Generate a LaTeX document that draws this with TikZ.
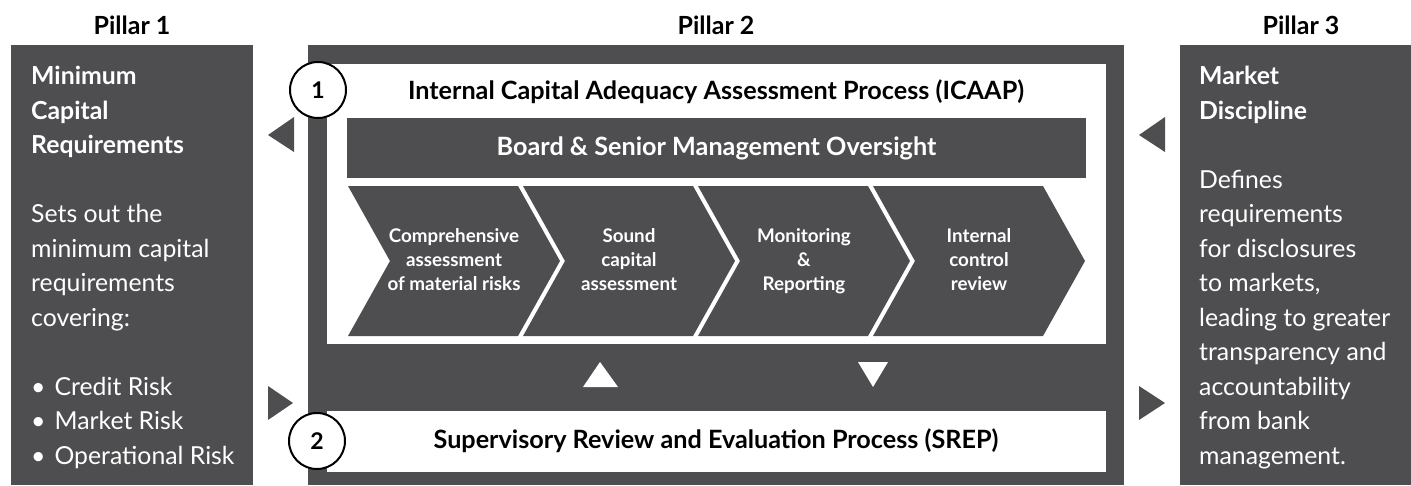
\documentclass[tikz,border=0pt]{standalone}
\usepackage{fontspec}
\setmainfont{Lato}
\definecolor{pillargray}{RGB}{78,78,80}

\begin{document}
\begin{tikzpicture}[x=1pt,y=-1pt,
    pillar/.style={fill=pillargray},
    pillarhead/.style={font=\bfseries\fontsize{25}{30}\selectfont},
    sidetext/.style={text=white, align=left, inner sep=0pt, anchor=base west,
        font=\fontsize{24.8}{34.5}\selectfont},
    title/.style={font=\bfseries\fontsize{25.2}{30}\selectfont},
    stepno/.style={circle, draw=black, line width=2pt, fill=white, minimum size=56pt,
        inner sep=0pt, font=\bfseries\fontsize{23}{26}\selectfont},
    chevtext/.style={text=white, align=center, anchor=base, font=\bfseries\fontsize{18.8}{24}\selectfont}]
    \useasboundingbox (0,0) rectangle (1411,485);

    % the three pillars
    \fill[pillar] (11,45) rectangle (253,485);
    \fill[pillar] (308,45) rectangle (1124,485);
    \fill[pillar] (1180,45) rectangle (1411,485);
    \node[pillarhead] (p1) at (132,25) {Pillar 1};
    \node[pillarhead] (p2) at (716,25) {Pillar 2};
    \node[pillarhead] (p3) at (1301,25) {Pillar 3};

    \node[sidetext] (p1text) at (31,464) {\bfseries Minimum\\\bfseries Capital\\\bfseries Requirements\\[34.5pt]
        Sets out the\\minimum capital\\requirements\\covering:\\[34.5pt]
        \textbullet\hspace{9pt}Credit Risk\\\textbullet\hspace{9pt}Market Risk\\\textbullet\hspace{9pt}Operational Risk};
    \node[sidetext] (p3text) at (1199,464) {\bfseries Market\\\bfseries Discipline\\[34.5pt]
        Defines\\requirements\\for disclosures\\to markets,\\leading to greater\\transparency and\\accountability\\from bank\\management.};

    % side markers
    \fill[pillar] (268,135) -- (294,117) -- (294,152) -- cycle;
    \fill[pillar] (293,403) -- (268,386) -- (268,420) -- cycle;
    \fill[pillar] (1139,135) -- (1165,117) -- (1165,152) -- cycle;
    \fill[pillar] (1165,403) -- (1139,386) -- (1139,420) -- cycle;

    % ICAAP
    \fill[white] (327,64) rectangle (1106,344);
    \node[title] (icaap) at (716,92) {Internal Capital Adequacy Assessment Process (ICAAP)};
    \node[pillar, text=white, title, minimum width=739pt, minimum height=60pt] (board) at (716.5,148)
        {Board \& Senior Management Oversight};
    \foreach \a/\txt [count=\i] in {348/{Comprehensive\\assessment\\of material risks},
        523/{Sound\\capital\\assessment}, 698/{Monitoring\\\&\\Reporting}, 873/{Internal\\control\\review}}{
        \fill[pillar] (\a,186) -- ++(170,0) -- ++(42,75) -- ++(-42,75) -- ++(-170,0) -- ++(42,-75) -- cycle;
        \node[chevtext] (step\i) at (\a+106,290) {\txt};
    }
    \node[stepno] (one) at (318,90) {1};

    % up and down between ICAAP and SREP
    \fill[white] (600,362) -- (618,387) -- (583,387) -- cycle;
    \fill[white] (873,387) -- (858,362) -- (888,362) -- cycle;

    % SREP
    \fill[white] (327,411) rectangle (1106,472);
    \node[title] (srep) at (716,441) {Supervisory Review and Evaluation Process (SREP)};
    \node[stepno] (two) at (317,441) {2};
\end{tikzpicture}
\end{document}
